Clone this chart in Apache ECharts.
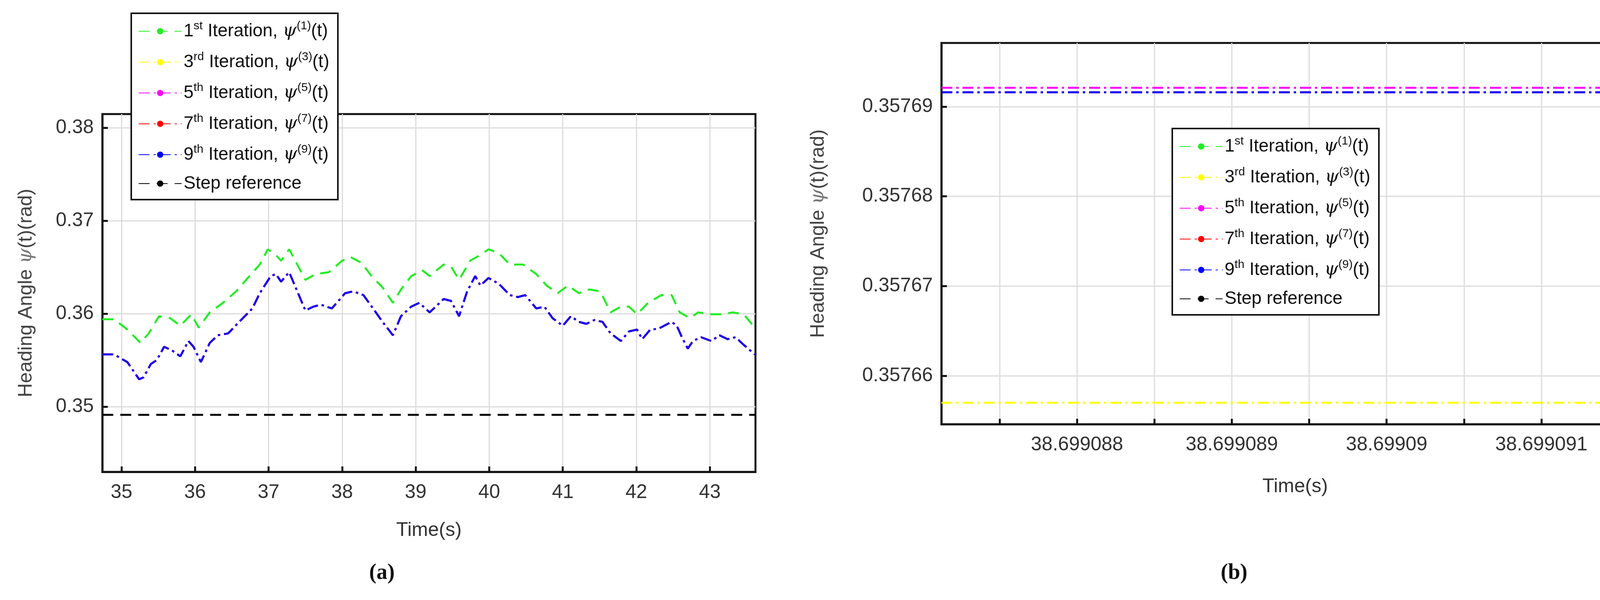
<!DOCTYPE html>
<html><head><meta charset="utf-8">
<script src="https://cdn.jsdelivr.net/npm/echarts@6/dist/echarts.min.js"></script>
<style>html,body{margin:0;background:#fff;overflow:hidden}#c{width:4260px;height:1536px}</style>
</head><body><div id="c"></div>
<script>
// Panel (a): [time, heading angle]
const iter1A = [[34.74,.35942],[34.90,.35942],[35.08,.35831],[35.26,.35687],[35.37,.35790],[35.51,.35975],[35.66,.35955],[35.80,.35872],[35.95,.35996],[36.05,.35852],[36.20,.36016],[36.38,.36119],[36.56,.36243],[36.74,.36407],[36.88,.36531],[36.99,.36695],[37.10,.36634],[37.17,.36572],[37.28,.36695],[37.39,.36531],[37.50,.36366],[37.64,.36428],[37.82,.36449],[38.00,.36572],[38.11,.36613],[38.26,.36551],[38.40,.36407],[38.55,.36284],[38.69,.36119],[38.80,.36263],[38.94,.36407],[39.09,.36469],[39.19,.36407],[39.38,.36531],[39.48,.36510],[39.59,.36366],[39.74,.36572],[39.88,.36634],[39.99,.36695],[40.13,.36654],[40.28,.36531],[40.46,.36531],[40.64,.36428],[40.78,.36305],[40.93,.36222],[41.07,.36305],[41.22,.36222],[41.36,.36263],[41.51,.36243],[41.65,.36016],[41.79,.36078],[41.90,.36078],[42.01,.35996],[42.16,.36119],[42.34,.36202],[42.48,.36202],[42.59,.36016],[42.73,.35955],[42.84,.36016],[43.02,.35996],[43.17,.35996],[43.31,.36016],[43.46,.35996],[43.61,.35852]];
const iter9A = [[34.74,.35564],[34.90,.35564],[35.08,.35481],[35.24,.35296],[35.30,.35317],[35.40,.35461],[35.48,.35502],[35.58,.35646],[35.69,.35605],[35.80,.35543],[35.91,.35708],[35.98,.35646],[36.08,.35481],[36.20,.35687],[36.31,.35770],[36.45,.35790],[36.60,.35914],[36.78,.36058],[36.88,.36222],[37.03,.36407],[37.10,.36428],[37.17,.36346],[37.28,.36449],[37.39,.36243],[37.50,.36037],[37.61,.36078],[37.71,.36099],[37.86,.36058],[38.04,.36222],[38.15,.36243],[38.29,.36202],[38.44,.36037],[38.55,.35914],[38.69,.35770],[38.80,.35975],[38.94,.36078],[39.05,.36119],[39.19,.36016],[39.38,.36160],[39.48,.36140],[39.59,.35975],[39.70,.36243],[39.81,.36407],[39.88,.36305],[39.99,.36386],[40.13,.36325],[40.28,.36202],[40.39,.36181],[40.49,.36202],[40.64,.36058],[40.75,.36078],[40.86,.35955],[41.00,.35872],[41.11,.35975],[41.22,.35914],[41.32,.35893],[41.43,.35934],[41.54,.35914],[41.65,.35790],[41.79,.35708],[41.90,.35811],[42.01,.35831],[42.08,.35728],[42.19,.35831],[42.30,.35840],[42.48,.35914],[42.55,.35872],[42.62,.35749],[42.70,.35626],[42.77,.35708],[42.88,.35749],[43.02,.35708],[43.13,.35770],[43.24,.35728],[43.35,.35749],[43.46,.35667],[43.61,.35564]];
const stepRefA = [[34.74,.34914],[43.62,.34914]];
const xTicksA = [35, 36, 37, 38, 39, 40, 41, 42, 43];
const yTicksA = [0.35, 0.36, 0.37, 0.38];
// Panel (b): time offset in microseconds after 38.699 s
const timeB = [87.1236, 91.6944];
const iter3B = 0.3576570, iter5B = 0.3576921, iter7B = 0.3576916, iter9B = 0.3576916;
const xTicksB = [88, 89, 90, 91];
const xGridB = [87.5, 88, 88.5, 89, 89.5, 90, 90.5, 91, 91.5];
const xTickLabelsB = ['38.699088', '38.699089', '38.69909', '38.699091'];
const yTicksB = [0.35766, 0.35767, 0.35768, 0.35769];

const names = ['it1','it3','it5','it7','it9','step'];
const legendText = {
  it1: '{n|1}{s|st}{n| Iteration, }{p|ψ}{s|(1)}{n|(t)}',
  it3: '{n|3}{s|rd}{n| Iteration, }{p|ψ}{s|(3)}{n|(t)}',
  it5: '{n|5}{s|th}{n| Iteration, }{p|ψ}{s|(5)}{n|(t)}',
  it7: '{n|7}{s|th}{n| Iteration, }{p|ψ}{s|(7)}{n|(t)}',
  it9: '{n|9}{s|th}{n| Iteration, }{p|ψ}{s|(9)}{n|(t)}',
  step: '{n|Step reference}'
};
const colors = {it1:'#22ee22', it3:'#ffff00', it5:'#ff00ff', it7:'#ff0000', it9:'#0000ff', step:'#000000'};
const dashes = {it1:[28,18], it3:[28,10,6,10], it5:[28,10,6,10], it7:[28,10,6,10], it9:[28,10,6,10], step:[28,18]};
const FONT = '"Liberation Sans Narrow","Arial Narrow","Liberation Sans",sans-serif';
const rich = {
  n:{fontSize:46, fontFamily:FONT, color:'#111'},
  s:{fontSize:30, fontFamily:FONT, color:'#111', padding:[0,0,26,0]},
  p:{fontSize:46, fontFamily:'"DejaVu Serif",serif', fontStyle:'italic', color:'#111'}
};
function legend(left, top) {
  return {show:true, left:left, top:top, orient:'vertical',
    data: names.slice(), formatter: n => legendText[n],
    itemWidth:110, itemHeight:20, itemGap:28, padding:[18,22,18,18],
    backgroundColor:'#fff', borderColor:'#111', borderWidth:4,
    textStyle:{rich:rich, fontSize:46}, selectedMode:false, z:10};
}
const series = [];
function addLine(n, xi, data){
  series.push({name:n, type:'line', xAxisIndex:xi, yAxisIndex:xi, data:data, symbol:'none', silent:true,
    lineStyle:{color:colors[n], width:5, type:dashes[n]}, itemStyle:{color:colors[n]}});
}
addLine('it1',0,iter1A); addLine('it3',0,iter9A); addLine('it5',0,iter9A); addLine('it7',0,iter9A); addLine('it9',0,iter9A); addLine('step',0,stepRefA);
addLine('it1',1,[]);
addLine('it3',1,timeB.map(t=>[t,iter3B]));
addLine('it5',1,timeB.map(t=>[t,iter5B]));
addLine('it7',1,timeB.map(t=>[t,iter7B]));
addLine('it9',1,timeB.map(t=>[t,iter9B]));
addLine('step',1,[]);

const lab = {fontSize:50, fontFamily:FONT, color:'#333', margin:28};
const split = {show:true, lineStyle:{color:'#dcdcdc', width:3}};
const tick = vals => ({show:true, inside:true, length:14, customValues:vals, lineStyle:{color:'#111', width:5}});
const axLine = {show:true, onZero:false, lineStyle:{color:'#111', width:5}};
const yName = {
  t:'{h|Heading Angle }{p|ψ}{h|(t)(rad)}',
  rich:{h:{fontSize:50, fontFamily:'"Liberation Sans",sans-serif', color:'#444'}, p:{fontSize:50, fontFamily:'"DejaVu Serif",serif', fontStyle:'italic', color:'#777'}}
};
const option = {
  animation:false, backgroundColor:'#fff',
  grid:[{left:262, top:292, width:1672, height:916, show:true, borderColor:'#111', borderWidth:5, backgroundColor:'transparent'},
        {left:2410, top:110, width:1811, height:976, show:true, borderColor:'#111', borderWidth:5, backgroundColor:'transparent'}],
  xAxis:[
    {gridIndex:0, type:'value', min:34.74, max:43.62, axisLine:axLine, axisTick:tick(xTicksA), splitLine:split,
     axisLabel:Object.assign({}, lab, {customValues:xTicksA, formatter:v=>String(v)}),
     name:'Time(s)', nameLocation:'middle', nameGap:125, nameTextStyle:{fontSize:50, fontFamily:FONT, color:'#333'}},
    {gridIndex:1, type:'value', min:timeB[0], max:timeB[1], axisLine:axLine, axisTick:tick(xGridB), splitLine:split,
     axisLabel:Object.assign({}, lab, {customValues:xTicksB, formatter:v=>xTickLabelsB[xTicksB.indexOf(v)]}),
     name:'Time(s)', nameLocation:'middle', nameGap:135, nameTextStyle:{fontSize:50, fontFamily:FONT, color:'#333'}}
  ],
  yAxis:[
    {gridIndex:0, type:'value', min:0.343, max:0.3815, axisLine:axLine, axisTick:tick(yTicksA), splitLine:split,
     axisLabel:Object.assign({}, lab, {margin:22, customValues:yTicksA, formatter:v=>String(v)}),
     name:yName.t, nameLocation:'middle', nameGap:170, nameRotate:90, nameTextStyle:{rich:yName.rich}},
    {gridIndex:1, type:'value', min:0.3576546, max:0.3576971, axisLine:axLine, axisTick:tick(yTicksB), splitLine:split,
     axisLabel:Object.assign({}, lab, {margin:22, customValues:yTicksB, formatter:v=>v.toFixed(5)}),
     name:yName.t, nameLocation:'middle', nameGap:290, nameRotate:90, nameTextStyle:{rich:yName.rich}}
  ],
  legend:[legend(336, 34), legend(3001, 329)],
  series:series,
  graphic:[
    {type:'text', left:945, top:1440, style:{text:'(a)', font:'bold 56px "Liberation Serif",serif', fill:'#111'}},
    {type:'text', left:3125, top:1440, style:{text:'(b)', font:'bold 56px "Liberation Serif",serif', fill:'#111'}}
  ]
};
const chart = echarts.init(document.getElementById('c'));
chart.setOption(option);
</script></body></html>
